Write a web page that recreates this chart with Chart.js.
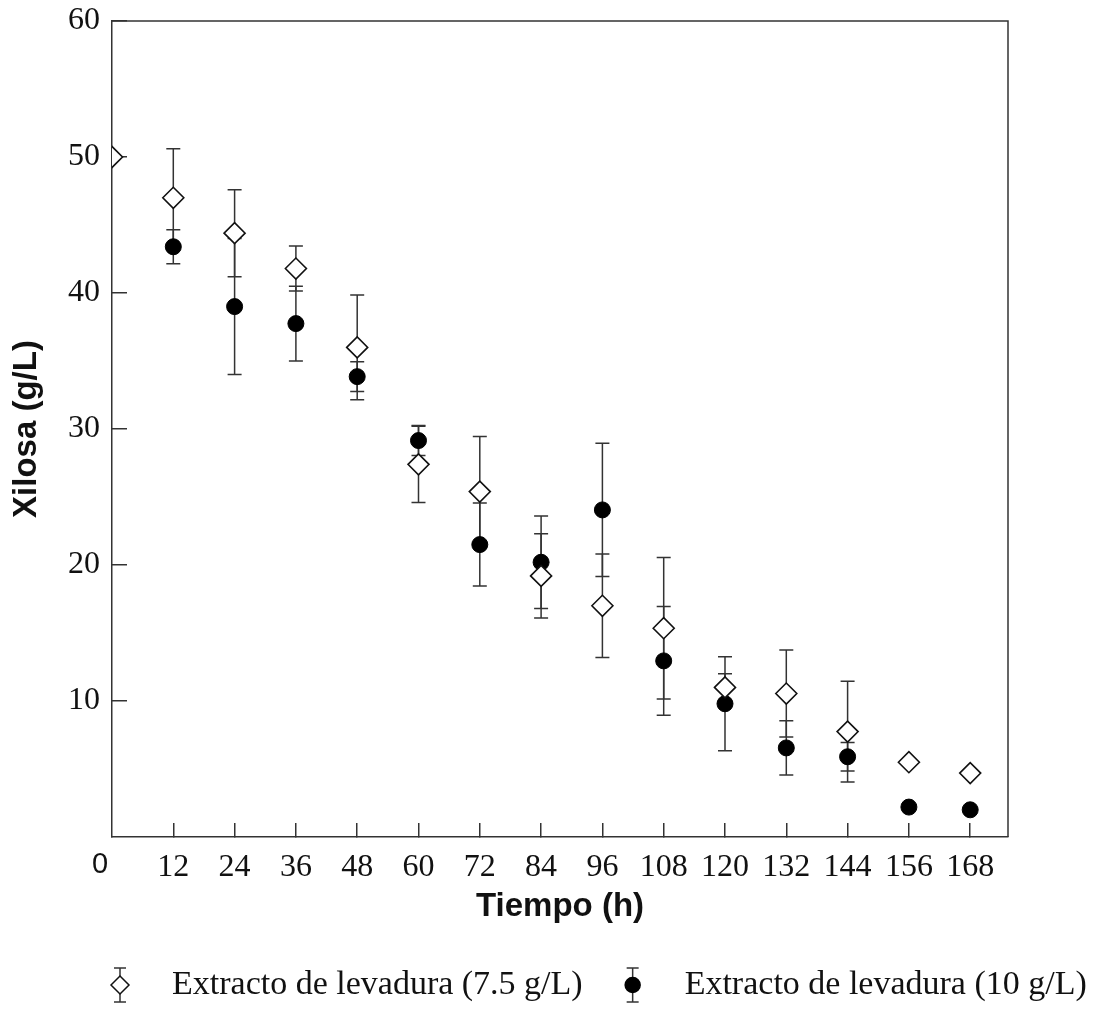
<!DOCTYPE html>
<html>
<head>
<meta charset="utf-8">
<script src="https://cdn.jsdelivr.net/npm/chart.js@4.4.1/dist/chart.umd.min.js"></script>
<style>
  html, body { margin: 0; padding: 0; background: #fff; }
</style>
</head>
<body>
<canvas id="chart" width="1106" height="1017"></canvas>
<script>
// ========
// Data
// ========
const time75 = [0, 12, 24, 36, 48, 60, 72, 84, 96, 108, 120, 132, 144, 156, 168];
const xilosa75 = [50, 47.0, 44.4, 41.8, 36.0, 27.4, 25.4, 19.2, 17.0, 15.35, 11.0, 10.55, 7.75, 5.5, 4.7];
const error75 = [0, 3.6, 3.2, 1.65, 3.85, 2.8, 4.05, 3.1, 3.8, 5.2, 1.0, 3.2, 3.7, 0, 0];

const time10 = [12, 24, 36, 48, 60, 72, 84, 96, 108, 120, 132, 144, 156, 168];
const xilosa10 = [43.4, 39.0, 37.75, 33.85, 29.15, 21.5, 20.2, 24.05, 12.95, 9.8, 6.55, 5.9, 2.2, 2.0];
const error10 = [1.25, 5.0, 2.75, 1.1, 1.1, 3.05, 3.4, 4.9, 4.0, 3.45, 2.0, 1.05, 0, 0];

const xTicks = [12, 24, 36, 48, 60, 72, 84, 96, 108, 120, 132, 144, 156, 168];
const yTicks = [10, 20, 30, 40, 50, 60];

const labels = ["Extracto de levadura (7.5 g/L)", "Extracto de levadura (10 g/L)"];

// ========
// Styles
// ========
const axisColor = "#333";
const textColor = "#111";
const serif = "'Liberation Serif', 'Times New Roman', serif";
const sans = "'Liberation Sans', Arial, sans-serif";

// Error bars go under the markers so the white diamonds cover them
const errorBars = {
    id: "errorBars",
    beforeDatasetsDraw(chart) {
        const { ctx, scales: { x, y } } = chart;
        ctx.save();
        ctx.strokeStyle = "#333";
        ctx.lineWidth = 1.5;
        chart.data.datasets.forEach(ds => {
            ds.data.forEach((p, i) => {
                const e = ds.errors[i];
                if (!e) return;
                const px = x.getPixelForValue(p.x);
                const top = y.getPixelForValue(p.y + e);
                const bot = y.getPixelForValue(p.y - e);
                ctx.beginPath();
                ctx.moveTo(px, top); ctx.lineTo(px, bot);
                ctx.moveTo(px - 7, top); ctx.lineTo(px + 7, top);
                ctx.moveTo(px - 7, bot); ctx.lineTo(px + 7, bot);
                ctx.stroke();
            });
        });
        ctx.restore();
    }
};

// Top and right sides of the box, plus the lone "0" at the corner
const frame = {
    id: "frame",
    afterDraw(chart) {
        const { ctx, chartArea: a } = chart;
        ctx.save();
        ctx.strokeStyle = axisColor;
        ctx.lineWidth = 1.5;
        ctx.beginPath();
        ctx.moveTo(a.left, a.top);
        ctx.lineTo(a.right, a.top);
        ctx.lineTo(a.right, a.bottom);
        ctx.stroke();

        ctx.fillStyle = textColor;
        ctx.font = "29px " + sans;
        ctx.textAlign = "center";
        ctx.textBaseline = "middle";
        ctx.fillText("0", a.left - 12, a.bottom + 28);
        ctx.restore();
    }
};

// Legend with the error-bar glyph behind each marker
const legendBars = {
    id: "legendBars",
    afterDraw(chart) {
        const { ctx, chartArea: a } = chart;
        const y = 985;
        let mx = a.left + 8;
        ctx.save();
        ctx.font = "34px " + serif;
        ctx.textBaseline = "middle";
        ctx.textAlign = "left";
        chart.data.datasets.forEach((ds, i) => {
            ctx.strokeStyle = "#333";
            ctx.lineWidth = 1.5;
            ctx.beginPath();
            ctx.moveTo(mx, y - 17); ctx.lineTo(mx, y + 17);
            ctx.moveTo(mx - 6, y - 17); ctx.lineTo(mx + 6, y - 17);
            ctx.moveTo(mx - 6, y + 17); ctx.lineTo(mx + 6, y + 17);
            ctx.stroke();

            ctx.beginPath();
            if (ds.pointStyle === "rectRot") {
                ctx.moveTo(mx - 9, y); ctx.lineTo(mx, y - 9);
                ctx.lineTo(mx + 9, y); ctx.lineTo(mx, y + 9);
                ctx.closePath();
            } else {
                ctx.arc(mx, y, 7.5, 0, Math.PI * 2);
            }
            ctx.fillStyle = ds.backgroundColor;
            ctx.fill();
            ctx.strokeStyle = ds.borderColor;
            ctx.stroke();

            ctx.fillStyle = textColor;
            const tx = mx + 52;
            ctx.fillText(ds.label, tx, y);
            mx = tx + ctx.measureText(ds.label).width + 50;
        });
        ctx.restore();
    }
};

new Chart(document.getElementById("chart"), {
    type: "scatter",
    data: {
        datasets: [
            {
                label: labels[0],
                data: time75.map((t, i) => ({ x: t, y: xilosa75[i] })),
                errors: error75,
                pointStyle: "rectRot",
                pointRadius: 10.5,
                backgroundColor: "#fff",
                borderColor: "#111",
                borderWidth: 1.6,
                clip: { left: 0, top: 12, right: 12, bottom: 12 }
            },
            {
                label: labels[1],
                data: time10.map((t, i) => ({ x: t, y: xilosa10[i] })),
                errors: error10,
                pointStyle: "circle",
                pointRadius: 8,
                backgroundColor: "#000",
                borderColor: "#000",
                borderWidth: 1,
                clip: { left: 0, top: 12, right: 12, bottom: 12 }
            }
        ]
    },
    options: {
        responsive: false,
        devicePixelRatio: 1,
        animation: false,
        events: [],
        layout: { padding: { top: 21, left: 0, right: 98, bottom: 80 } },
        plugins: {
            legend: { display: false },
            tooltip: { enabled: false }
        },
        scales: {
            x: {
                type: "linear",
                min: 0,
                max: 175.4,
                afterBuildTicks: s => { s.ticks = xTicks.map(v => ({ value: v })); },
                afterFit: s => { s.height = 100; s.paddingLeft = 0; s.paddingRight = 0; },
                grid: { drawOnChartArea: false, tickLength: -14, color: axisColor, lineWidth: 1.5 },
                border: { color: axisColor, width: 1.5 },
                ticks: {
                    padding: 25,
                    maxRotation: 0,
                    autoSkip: false,
                    color: textColor,
                    font: { family: serif, size: 32 }
                },
                title: {
                    display: true,
                    text: "Tiempo (h)",
                    color: textColor,
                    font: { family: sans, size: 33, weight: "bold" },
                    padding: { top: 0, bottom: 10 }
                }
            },
            y: {
                min: 0,
                max: 60,
                afterBuildTicks: s => { s.ticks = yTicks.map(v => ({ value: v })); },
                // keep the label padding out of the plot's top margin
                afterFit: s => { s.width = 112; s.paddingTop = 0; s.paddingBottom = 0; },
                grid: { drawOnChartArea: false, tickLength: -15, color: axisColor, lineWidth: 1.5 },
                border: { color: axisColor, width: 1.5 },
                ticks: {
                    padding: 27,
                    color: textColor,
                    font: { family: serif, size: 32 }
                },
                title: {
                    display: true,
                    text: "Xilosa (g/L)",
                    color: textColor,
                    font: { family: sans, size: 33, weight: "bold" },
                    padding: { top: 7, bottom: 0 }
                }
            }
        }
    },
    plugins: [errorBars, frame, legendBars]
});
</script>
</body>
</html>
